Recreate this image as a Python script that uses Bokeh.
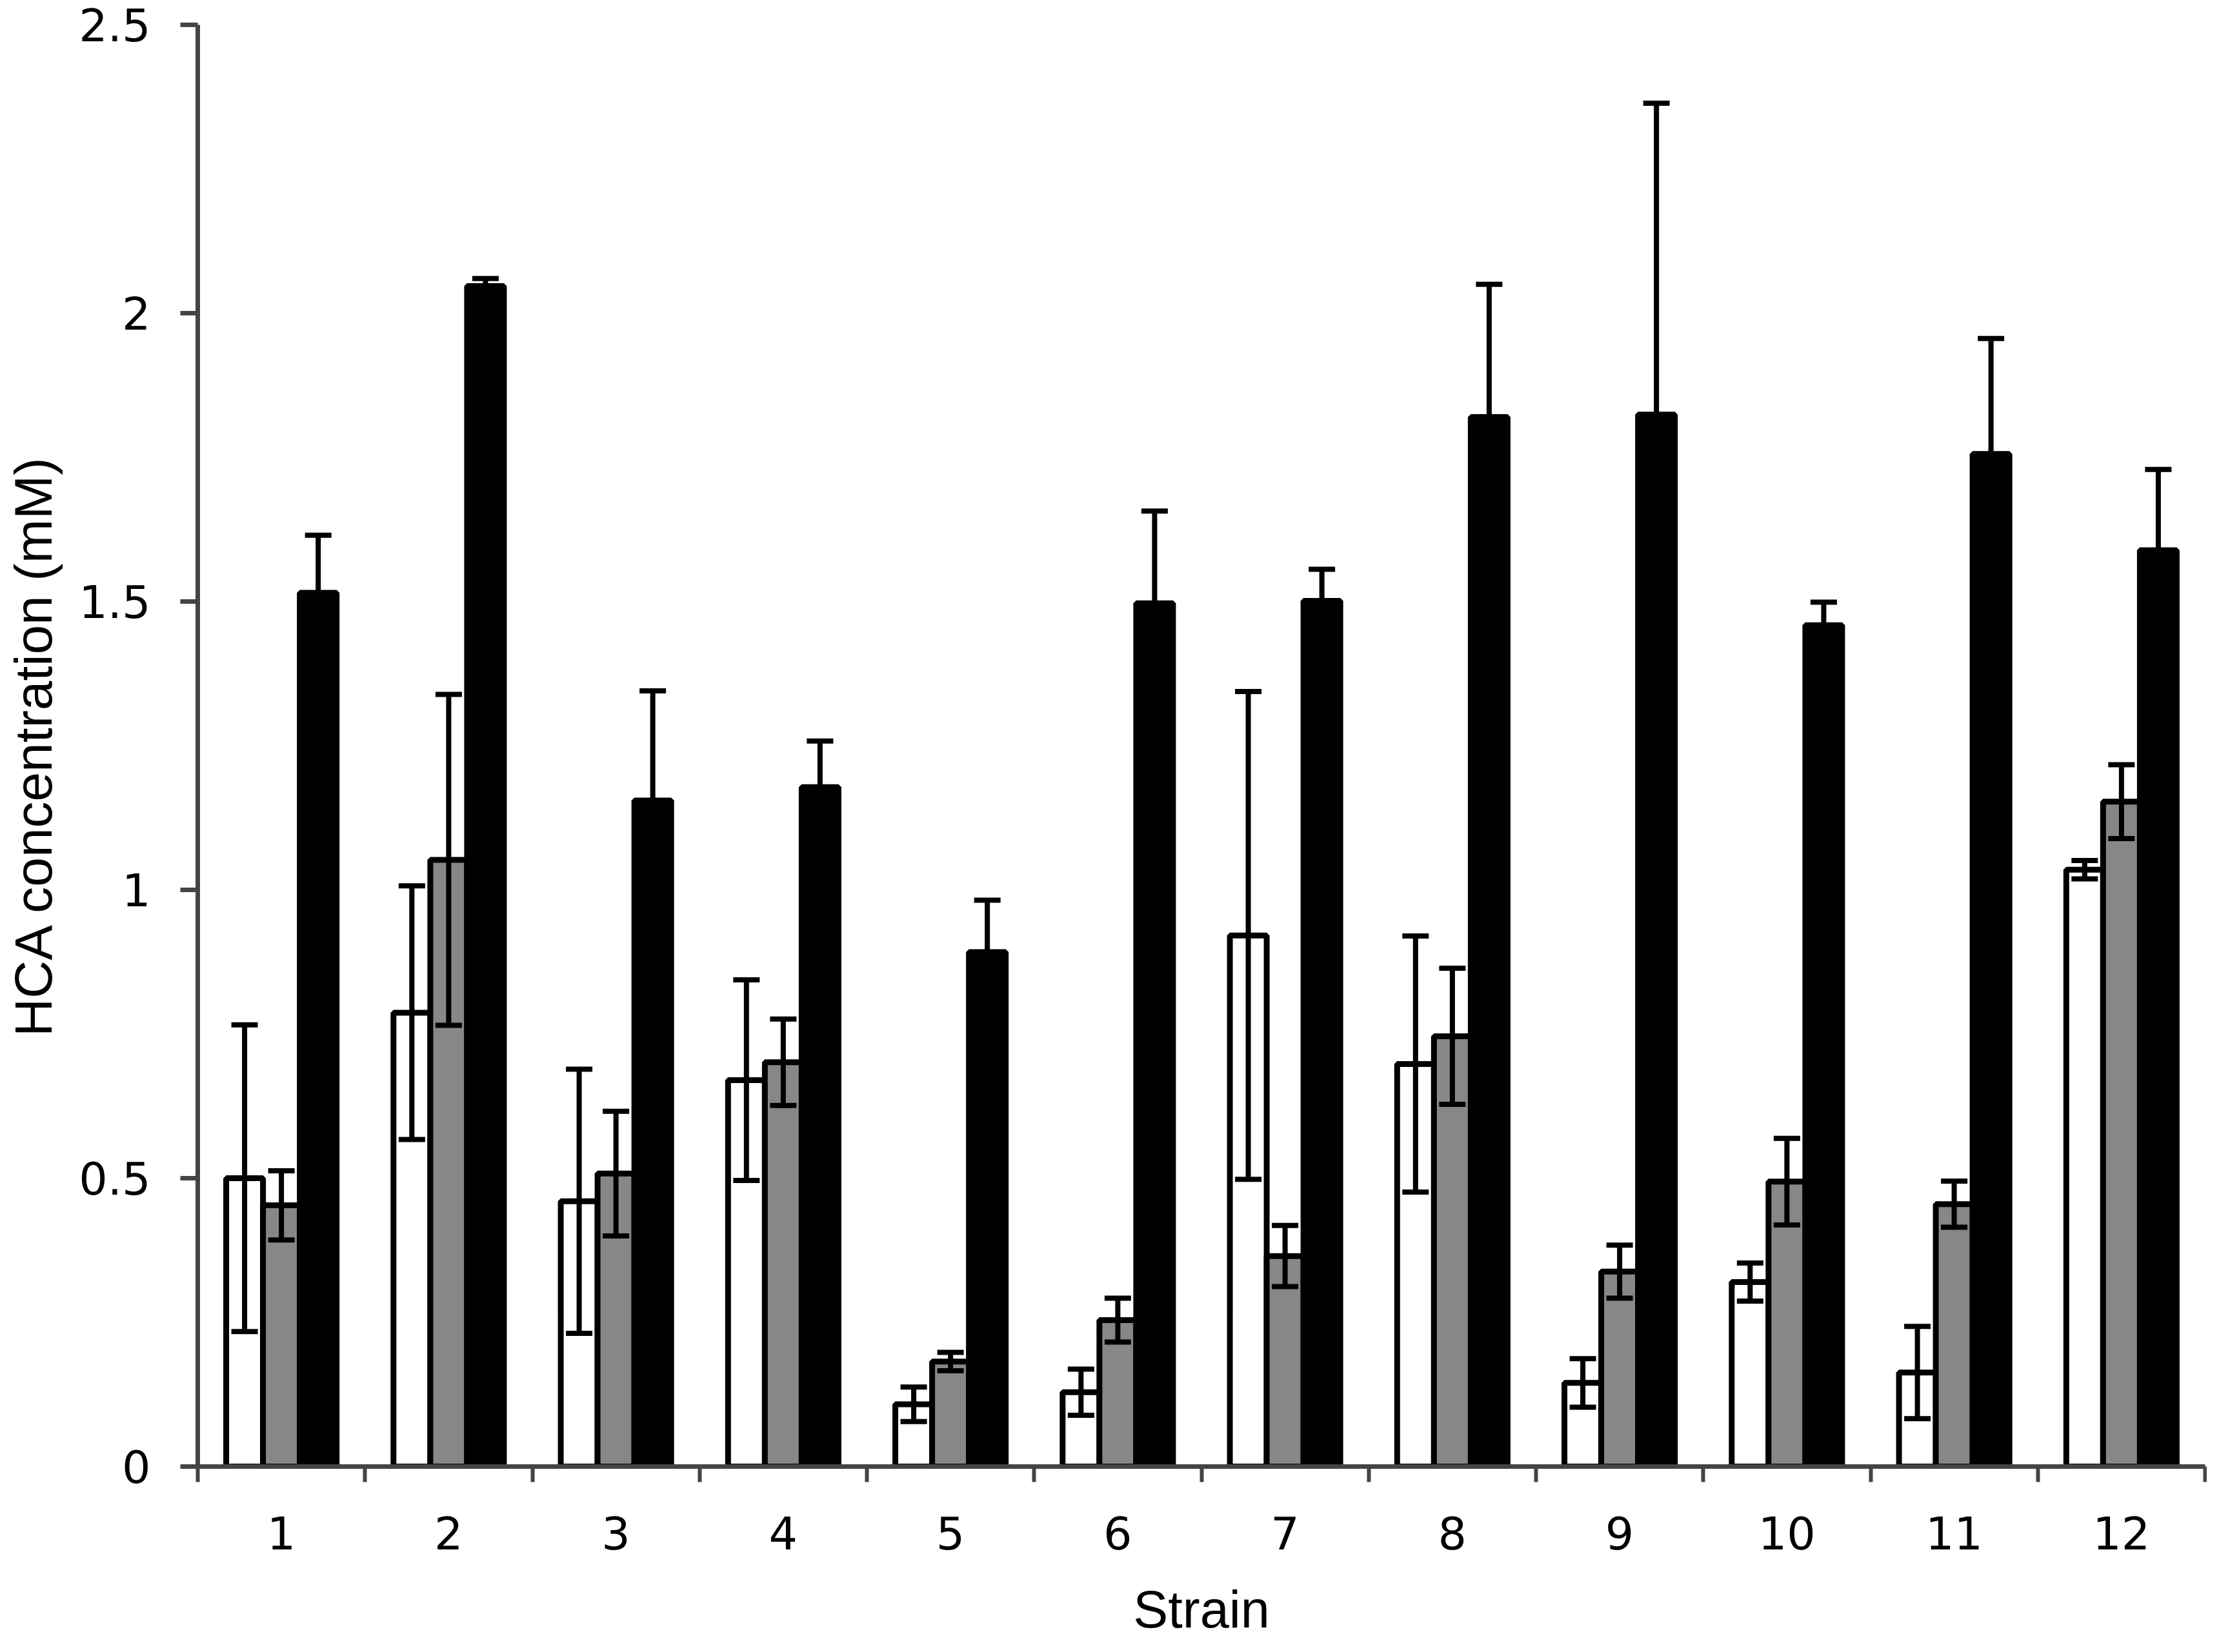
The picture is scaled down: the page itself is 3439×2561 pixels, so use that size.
from bokeh.plotting import figure
from bokeh.models import (ColumnDataSource, Range1d, FixedTicker, Whisker, TeeHead)
from bokeh.embed import file_html
from bokeh.resources import INLINE

# ---- data ----
strains = ["1", "2", "3", "4", "5", "6", "7", "8", "9", "10", "11", "12"]
white_vals = [0.500, 0.787, 0.460, 0.670, 0.108, 0.129, 0.921, 0.698, 0.145, 0.320, 0.163, 1.035]
white_err = [0.266, 0.220, 0.229, 0.174, 0.030, 0.040, 0.423, 0.222, 0.042, 0.033, 0.080, 0.016]
gray_vals = [0.453, 1.052, 0.508, 0.701, 0.182, 0.254, 0.365, 0.746, 0.338, 0.494, 0.455, 1.153]
gray_err = [0.060, 0.287, 0.108, 0.075, 0.016, 0.038, 0.053, 0.118, 0.046, 0.075, 0.040, 0.064]
black_vals = [1.515, 2.047, 1.155, 1.178, 0.892, 1.497, 1.501, 1.820, 1.824, 1.459, 1.756, 1.589]
black_err = [0.100, 0.013, 0.190, 0.080, 0.090, 0.160, 0.055, 0.230, 0.540, 0.040, 0.200, 0.140]
y_ticks = [0, 0.5, 1, 1.5, 2, 2.5]
y_tick_labels = ["0", "0.5", "1", "1.5", "2", "2.5"]

series = [
    (white_vals, white_err, "white", -1),
    (gray_vals, gray_err, "#878787", 0),
    (black_vals, black_err, "black", 1),
]

BAR_W = 0.22
AXIS_COLOR = "#444444"

p = figure(
    output_backend="svg", toolbar_location=None,
    frame_width=3111, frame_height=2235,
    min_border_left=306, min_border_top=38, min_border_right=3, min_border_bottom=268,
    x_range=Range1d(0.5, 12.5), y_range=Range1d(0, 2.5),
)
p.outline_line_color = None
p.xgrid.visible = False
p.ygrid.visible = False
p.background_fill_color = "white"
p.border_fill_color = "white"

centers = list(range(1, len(strains) + 1))

for vals, errs, color, off in series:
    xs = [c + off * BAR_W for c in centers]
    src = ColumnDataSource(dict(x=xs, top=vals))
    p.vbar(x="x", top="top", bottom=0, width=BAR_W, source=src,
           fill_color=color, line_color="black", line_width=9)

for vals, errs, color, off in series:
    xs = [c + off * BAR_W for c in centers]
    esrc = ColumnDataSource(dict(
        x=xs,
        upper=[v + e for v, e in zip(vals, errs)],
        lower=[v - e for v, e in zip(vals, errs)],
    ))
    w = Whisker(source=esrc, base="x", upper="upper", lower="lower",
                dimension="height", line_color="black", line_width=8,
                level="overlay",
                upper_head=TeeHead(size=41, line_color="black", line_width=8),
                lower_head=TeeHead(size=41, line_color="black", line_width=8))
    p.add_layout(w)

# x axis: labels at group centers, ticks at group boundaries
xa = p.xaxis[0]
xa.ticker = FixedTicker(ticks=centers, minor_ticks=[c - 0.5 for c in centers] + [12.5])
xa.major_label_overrides = {c: s for c, s in zip(centers, strains)}
xa.major_tick_line_color = None
xa.major_tick_out = 24
xa.major_tick_in = 0
xa.minor_tick_out = 24
xa.minor_tick_in = 0
xa.minor_tick_line_color = AXIS_COLOR
xa.minor_tick_line_width = 6
xa.axis_line_color = AXIS_COLOR
xa.axis_line_width = 7
xa.major_label_text_font = "DejaVu Sans"
xa.major_label_text_font_size = "70px"
xa.major_label_text_color = "black"
xa.major_label_standoff = 53
xa.axis_label = "Strain"
xa.axis_label_text_font = "Liberation Sans"
xa.axis_label_text_font_size = "81px"
xa.axis_label_text_font_style = "normal"
xa.axis_label_text_color = "black"
xa.axis_label_standoff = 45

ya = p.yaxis[0]
ya.ticker = FixedTicker(ticks=y_ticks, minor_ticks=[])
ya.major_label_overrides = {t: s for t, s in zip(y_ticks, y_tick_labels)}
ya.major_tick_out = 27
ya.major_tick_in = 0
ya.major_tick_line_color = AXIS_COLOR
ya.major_tick_line_width = 7
ya.minor_tick_line_color = None
ya.axis_line_color = AXIS_COLOR
ya.axis_line_width = 7
ya.major_label_text_font = "DejaVu Sans"
ya.major_label_text_font_size = "70px"
ya.major_label_text_color = "black"
ya.major_label_standoff = 46
ya.axis_label = "HCA concentration (mM)"
ya.axis_label_text_font = "Liberation Sans"
ya.axis_label_text_font_size = "82px"
ya.axis_label_text_font_style = "normal"
ya.axis_label_text_color = "black"
ya.axis_label_standoff = 22

open("out.html", "w").write(file_html(p, INLINE))
